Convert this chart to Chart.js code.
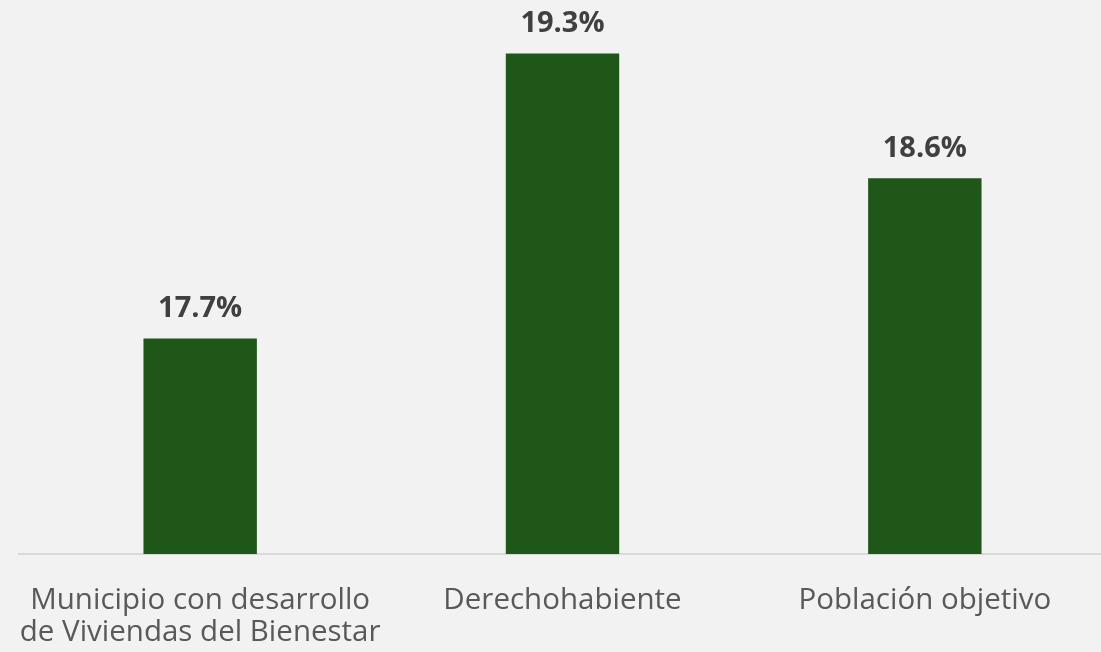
<!DOCTYPE html>
<html lang="es">
<head>
  <meta charset="UTF-8">
  <title>Porcentaje por grupo</title>
  <style>
    html, body {
      margin: 0;
      padding: 0;
      background-color: #f2f2f2;
      overflow: hidden;
    }
    .wrap {
      position: relative;
      width: 1106px;
      height: 652px;
    }
  </style>
</head>
<body>
  <div class="wrap"><canvas id="chart"></canvas></div>

  <script src="https://cdn.jsdelivr.net/npm/chart.js"></script>
  <script>
    const categories = [
      ['Municipio con desarrollo', 'de Viviendas del Bienestar'],
      'Derechohabiente',
      'Población objetivo'
    ];
    const values = [17.7, 19.3, 18.6];
    const valueLabels = ['17.7%', '19.3%', '18.6%'];

    // labels drawn above every bar
    const barLabels = {
      id: 'barLabels',
      afterDatasetsDraw(chart) {
        const ctx = chart.ctx;
        const meta = chart.getDatasetMeta(0);
        ctx.save();
        ctx.font = 'bold 29px "Open Sans"';
        ctx.fillStyle = '#404040';
        ctx.textAlign = 'center';
        ctx.textBaseline = 'alphabetic';
        meta.data.forEach((bar, i) => {
          ctx.fillText(valueLabels[i], bar.x, bar.y - 21);
        });
        ctx.restore();
      }
    };

    new Chart(document.getElementById('chart'), {
      type: 'bar',
      data: {
        labels: categories,
        datasets: [{
          data: values,
          backgroundColor: '#1f5719',
          categoryPercentage: 1,
          barPercentage: 0.313
        }]
      },
      options: {
        responsive: true,
        maintainAspectRatio: false,
        animation: false,
        layout: { padding: { left: 19, right: 0, top: 0, bottom: 0 } },
        plugins: {
          legend: { display: false },
          tooltip: { enabled: false }
        },
        scales: {
          x: {
            grid: { display: false, drawTicks: false },
            border: { display: true, color: '#d9d9d9', width: 2 },
            ticks: {
              color: '#595959',
              font: { family: '"Open Sans"', size: 29.5, lineHeight: 1.1 },
              padding: 30,
              maxRotation: 0,
              autoSkip: false
            },
            afterFit(scale) {
              scale.height = 98;
              scale.paddingLeft = 0;
              scale.paddingRight = 0;
            }
          },
          y: {
            display: false,
            min: 16.49,
            max: 19.6
          }
        }
      },
      plugins: [barLabels]
    });
  </script>
</body>
</html>
